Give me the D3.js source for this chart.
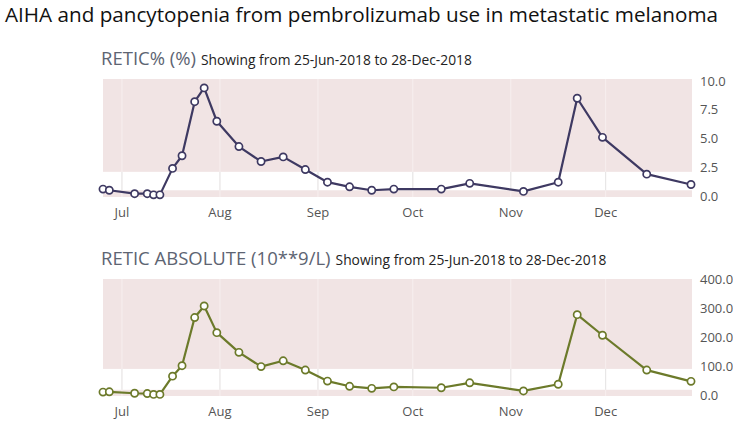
<!DOCTYPE html>
<html>
<head>
<meta charset="utf-8">
<script src="https://cdn.jsdelivr.net/npm/d3@7"></script>
<style>
  html, body { margin: 0; padding: 0; background: #ffffff; }
  svg { display: block; }
</style>
</head>
<body>
<svg id="chart" width="733" height="423"></svg>
<script>
// ---------- DATA ----------
const chartTitle = "AIHA and pancytopenia from pembrolizumab use in metastatic melanoma";
const rangeText = "Showing from 25-Jun-2018 to 28-Dec-2018";
const domainStart = "2018-06-25";
const domainEnd = "2018-12-28";
const monthTicks = ["2018-07-01", "2018-08-01", "2018-09-01", "2018-10-01", "2018-11-01", "2018-12-01"];
const monthLabels = ["Jul", "Aug", "Sep", "Oct", "Nov", "Dec"];

const sampleDates = [
  "2018-06-25", "2018-06-27", "2018-07-05", "2018-07-09", "2018-07-11", "2018-07-13",
  "2018-07-17", "2018-07-20", "2018-07-24", "2018-07-27", "2018-07-31", "2018-08-07",
  "2018-08-14", "2018-08-21", "2018-08-28", "2018-09-04", "2018-09-11", "2018-09-18",
  "2018-09-25", "2018-10-10", "2018-10-19", "2018-11-05", "2018-11-16", "2018-11-22",
  "2018-11-30", "2018-12-14", "2018-12-28"
];

const reticPctTitle = "RETIC% (%)";
const reticPct = [0.6, 0.5, 0.2, 0.2, 0.1, 0.1, 2.4, 3.5, 8.2, 9.4, 6.5, 4.3, 3.0, 3.4, 2.3, 1.2, 0.8, 0.5, 0.6, 0.6, 1.1, 0.4, 1.2, 8.5, 5.1, 1.9, 1.0];
const reticPctTicks = [0, 2.5, 5, 7.5, 10];
const reticPctNormal = [0.5, 2.1];

const reticAbsTitle = "RETIC ABSOLUTE (10**9/L)";
const reticAbs = [10, 11, 6, 5, 2, 2, 65, 101, 267, 307, 215, 147, 98, 118, 86, 48, 30, 23, 28, 25, 42, 14, 37, 277, 206, 86, 47];
const reticAbsTicks = [0, 100, 200, 300, 400];
const reticAbsNormal = [18, 90];

// ---------- DRAW ----------
const svg = d3.select("#chart");
const parse = d3.timeParse("%Y-%m-%d");

svg.append("text")
  .attr("x", 5).attr("y", 22)
  .attr("font-family", "'Open Sans', sans-serif")
  .attr("font-size", 20.5)
  .attr("fill", "#111")
  .attr("textLength", 713)
  .attr("lengthAdjust", "spacingAndGlyphs")
  .text(chartTitle);

const x = d3.scaleTime()
  .domain([parse(domainStart), parse(domainEnd)])
  .range([103, 691]);

const plotLeft = 103, plotRight = 692;

function panel(cfg) {
  const g = svg.append("g");
  const y = d3.scaleLinear().domain([cfg.ticks[0], cfg.ticks[cfg.ticks.length - 1]]).range([cfg.y0, cfg.y1]);

  // titles
  const t = g.append("text")
    .attr("x", 101).attr("y", cfg.titleY)
    .attr("font-family", "'Open Sans', sans-serif");
  t.append("tspan").attr("font-size", 18.5).attr("fill", "#5d6472").text(cfg.title);
  t.append("tspan").attr("font-size", 13.8).attr("fill", "#222").attr("dx", 5).text(rangeText);

  // background (abnormal = pink), normal band white
  g.append("rect")
    .attr("x", plotLeft).attr("y", cfg.top)
    .attr("width", plotRight - plotLeft).attr("height", cfg.bottom - cfg.top)
    .attr("fill", "#f1e4e4");
  g.append("rect")
    .attr("x", plotLeft).attr("y", y(cfg.normal[1]))
    .attr("width", plotRight - plotLeft).attr("height", y(cfg.normal[0]) - y(cfg.normal[1]))
    .attr("fill", "#ffffff");

  // vertical grid lines
  const ticks = monthTicks.map(parse);
  g.selectAll("line.gp").data(ticks).enter().append("line")
    .attr("x1", d => x(d)).attr("x2", d => x(d))
    .attr("y1", cfg.top).attr("y2", cfg.bottom)
    .attr("stroke", "#f7efef").attr("stroke-width", 1);
  g.selectAll("line.gw").data(ticks).enter().append("line")
    .attr("x1", d => x(d)).attr("x2", d => x(d))
    .attr("y1", y(cfg.normal[1])).attr("y2", y(cfg.normal[0]))
    .attr("stroke", "#e6e6e6").attr("stroke-width", 1);

  // x labels
  g.selectAll("text.xl").data(ticks).enter().append("text")
    .attr("x", d => x(d)).attr("y", cfg.xLabelY)
    .attr("text-anchor", "middle")
    .attr("font-family", "'Open Sans', sans-serif")
    .attr("font-size", 13).attr("fill", "#555")
    .text((d, i) => monthLabels[i]);

  // y labels
  g.selectAll("text.yl").data(cfg.ticks).enter().append("text")
    .attr("x", 700).attr("y", d => y(d))
    .attr("dy", "0.35em")
    .attr("font-family", "'Open Sans', sans-serif")
    .attr("font-size", 13).attr("fill", "#555")
    .text(d => d3.format(".1f")(d));

  // line + points
  const pts = sampleDates.map((d, i) => ({ d: parse(d), v: cfg.values[i] }));
  g.append("path")
    .datum(pts)
    .attr("fill", "none")
    .attr("stroke", cfg.color).attr("stroke-width", 2.2)
    .attr("stroke-linejoin", "round")
    .attr("d", d3.line().x(p => x(p.d)).y(p => y(p.v)));
  g.selectAll("circle").data(pts).enter().append("circle")
    .attr("cx", p => x(p.d)).attr("cy", p => y(p.v))
    .attr("r", 3.6)
    .attr("fill", "#fff").attr("stroke", cfg.color).attr("stroke-width", 1.7);
}

panel({
  title: reticPctTitle, values: reticPct, ticks: reticPctTicks, normal: reticPctNormal,
  color: "#3e3962", titleY: 65, top: 79, bottom: 197, y0: 196, y1: 81, xLabelY: 217
});
panel({
  title: reticAbsTitle, values: reticAbs, ticks: reticAbsTicks, normal: reticAbsNormal,
  color: "#6c7a2a", titleY: 265, top: 279, bottom: 396, y0: 395, y1: 279, xLabelY: 416
});
</script>
</body>
</html>
